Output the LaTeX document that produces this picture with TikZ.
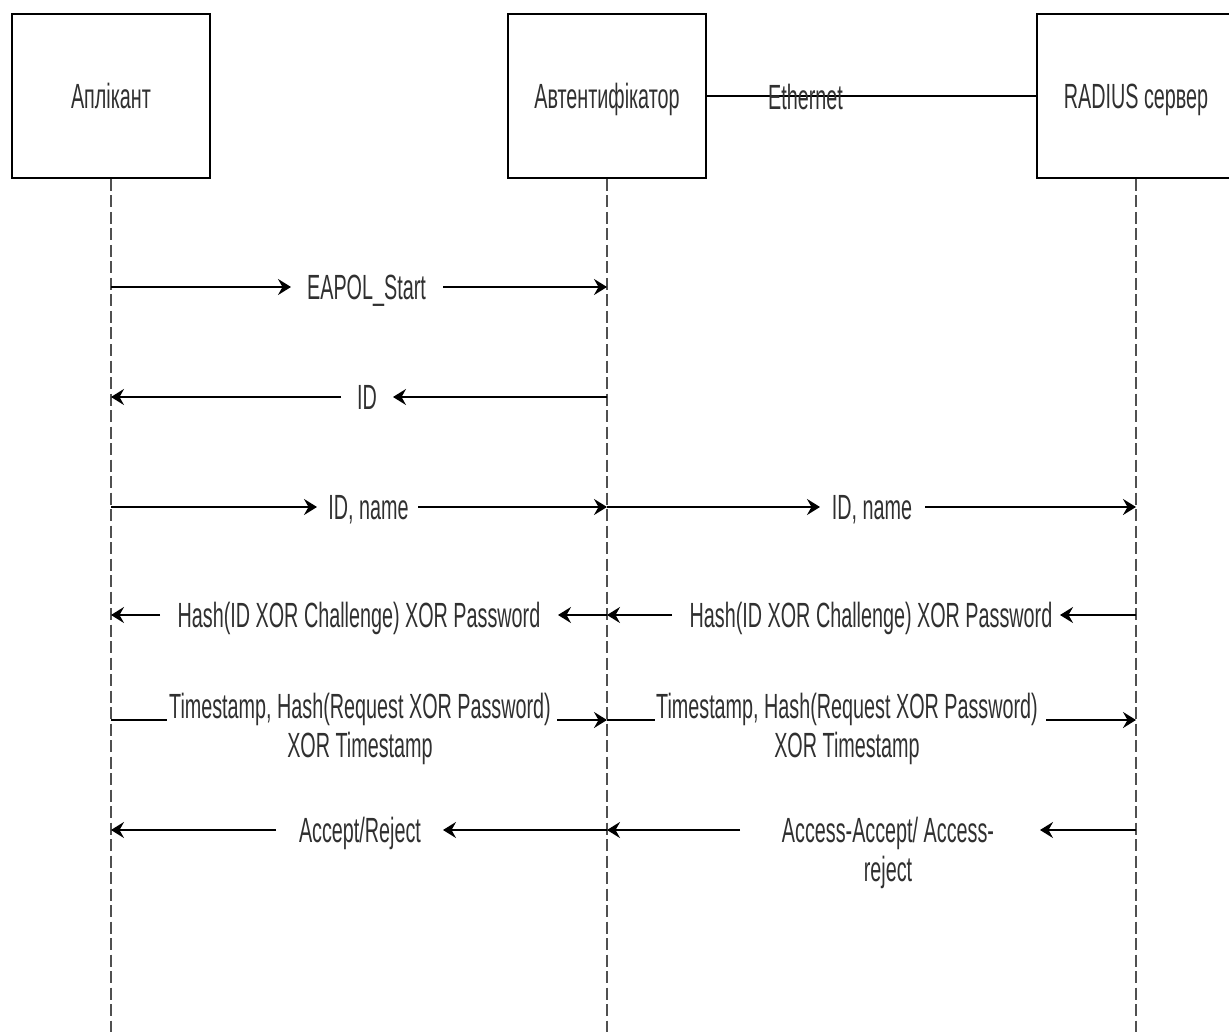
\documentclass[tikz,border=0pt]{standalone}
\usepackage{fontspec}
\setmainfont{Liberation Sans}[FakeStretch=0.565]
\usetikzlibrary{arrows.meta}
\definecolor{txt}{HTML}{303030}
\definecolor{lifec}{HTML}{505050}
\newcommand\lbfont{\fontsize{35}{39}\selectfont}
\begin{document}
\begin{tikzpicture}[x=1pt,y=-1pt,
  actor/.style={draw=black, line width=2pt, fill=white, minimum width=198pt,
    minimum height=164pt, inner sep=0pt, font=\lbfont, text=txt,
    text height=25pt, text depth=0pt},
  life/.style={draw=lifec, line width=1.2pt, dash pattern=on 12pt off 4.5pt},
  msg/.style={draw=black, line width=2pt, -{Stealth[length=13pt,width=16pt,inset=4.5pt]}},
  seg/.style={draw=black, line width=2pt},
  lbl/.style={font=\lbfont, text=txt, inner sep=0pt, anchor=base}]
\useasboundingbox (0,0) rectangle (1229,1032);
% actors
\node[actor] (A) at (111,96) {Аплікант};
\node[actor] (B) at (607,96) {Автентифікатор};
\node[actor] (C) at (1136,96) {RADIUS сервер};
% lifelines
\coordinate (Aend) at (111,1032);
\coordinate (Bend) at (607,1032);
\coordinate (Cend) at (1136,1032);
\draw[life] (A.south) -- (Aend);
\draw[life] (B.south) -- (Bend);
\draw[life] (C.south) -- (Cend);
% Ethernet
\draw[seg] (B.east) -- (C.west);
\node[lbl] (eth) at (805.5,109.5) {Ethernet};
% m1 EAPOL_Start
\coordinate (m1a) at (111,287); \coordinate (m1b) at (291,287);
\coordinate (m1c) at (443,287); \coordinate (m1d) at (607,287);
\draw[msg] (m1a) -- (m1b);
\draw[msg] (m1c) -- (m1d);
\node[lbl] (l1) at (366.5,299.5) {EAPOL\_Start};
% m2 ID
\coordinate (m2a) at (607,397); \coordinate (m2b) at (393,397);
\coordinate (m2c) at (341,397); \coordinate (m2d) at (111,397);
\draw[msg] (m2a) -- (m2b);
\draw[msg] (m2c) -- (m2d);
\node[lbl] (l2) at (367,409.5) {ID};
% m3 ID, name
\coordinate (m3a) at (111,507); \coordinate (m3b) at (317,507);
\coordinate (m3c) at (418,507); \coordinate (m3d) at (607,507);
\coordinate (m3e) at (820,507); \coordinate (m3f) at (925,507);
\coordinate (m3g) at (1136,507);
\draw[msg] (m3a) -- (m3b);
\draw[msg] (m3c) -- (m3d);
\draw[msg] (m3d) -- (m3e);
\draw[msg] (m3f) -- (m3g);
\node[lbl] (l3a) at (368.5,519.5) {ID, name};
\node[lbl] (l3b) at (872,519.5) {ID, name};
% m4 Hash
\coordinate (m4a) at (607,615); \coordinate (m4b) at (558,615);
\coordinate (m4c) at (160,615); \coordinate (m4d) at (111,615);
\coordinate (m4e) at (1136,615); \coordinate (m4f) at (1060,615);
\coordinate (m4g) at (672,615);
\draw[msg] (m4a) -- (m4b);
\draw[msg] (m4c) -- (m4d);
\draw[msg] (m4e) -- (m4f);
\draw[msg] (m4g) -- (m4a);
\node[lbl] (l4a) at (359,627.5) {Hash(ID XOR Challenge) XOR Password};
\node[lbl] (l4b) at (871,627.5) {Hash(ID XOR Challenge) XOR Password};
% m5 Timestamp
\coordinate (m5a) at (111,720); \coordinate (m5b) at (167,720);
\coordinate (m5c) at (557,720); \coordinate (m5d) at (607,720);
\coordinate (m5e) at (655,720); \coordinate (m5f) at (1046,720);
\coordinate (m5g) at (1136,720);
\draw[seg] (m5a) -- (m5b);
\draw[msg] (m5c) -- (m5d);
\draw[seg] (m5d) -- (m5e);
\draw[msg] (m5f) -- (m5g);
\node[lbl] (l5a) at (360,718) {\begin{tabular}[t]{@{}c@{}}Timestamp, Hash(Request XOR Password)\\XOR Timestamp\end{tabular}};
\node[lbl] (l5b) at (847,718) {\begin{tabular}[t]{@{}c@{}}Timestamp, Hash(Request XOR Password)\\XOR Timestamp\end{tabular}};
% m6 Accept/Reject
\coordinate (m6a) at (607,830); \coordinate (m6b) at (443,830);
\coordinate (m6c) at (276,830); \coordinate (m6d) at (111,830);
\coordinate (m6e) at (1136,830); \coordinate (m6f) at (1040,830);
\coordinate (m6g) at (740,830);
\draw[msg] (m6a) -- (m6b);
\draw[msg] (m6c) -- (m6d);
\draw[msg] (m6e) -- (m6f);
\draw[msg] (m6g) -- (m6a);
\node[lbl] (l6a) at (360,842.5) {Accept/Reject};
\node[lbl] (l6b) at (888,842.5) {\begin{tabular}[t]{@{}c@{}}Access-Accept/ Access-\\reject\end{tabular}};
\end{tikzpicture}
\end{document}
